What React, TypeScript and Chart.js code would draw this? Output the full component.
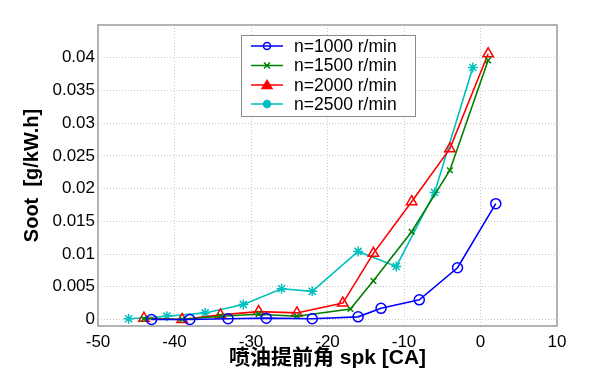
import React, { useEffect, useRef } from "react";
import { Chart, registerables } from "chart.js";

Chart.register(...registerables);

const seriesLabels = ["n=1000 r/min", "n=1500 r/min", "n=2000 r/min", "n=2500 r/min"];

const x1000 = [-43, -38, -33, -28, -22, -16, -13, -8, -3, 2];
const y1000 = [0.0, 0.0, 0.0001, 0.0002, 0.0001, 0.0004, 0.0017, 0.003, 0.0079, 0.0177];

const x1500 = [-44, -39, -34, -29, -24, -17, -14, -9, -4, 1];
const y1500 = [0.0001, 0.0, 0.0005, 0.0008, 0.0005, 0.0016, 0.0059, 0.0134, 0.0228, 0.0396];

const x2000 = [-44, -39, -34, -29, -24, -18, -14, -9, -4, 1];
const y2000 = [0.0002, 0.0, 0.0007, 0.0012, 0.001, 0.0025, 0.0101, 0.018, 0.0261, 0.0406];

const x2500 = [-46, -41, -36, -31, -26, -22, -16, -11, -6, -1];
const y2500 = [0.0001, 0.0005, 0.001, 0.0023, 0.0047, 0.0043, 0.0104, 0.0081, 0.0194, 0.0385];

const xTicks = [-50, -40, -30, -20, -10, 0, 10];
const yTicks = [0, 0.005, 0.01, 0.015, 0.02, 0.025, 0.03, 0.035, 0.04];

const xTitle = "喷油提前角 spk [CA]";
const yTitle = "Soot  [g/kW.h]";

const colors = ["#0000ff", "#008000", "#ff0000", "#00bfbf"];
const styles = ["circle", "crossRot", "triangle", "star"];
const radii = [5, 4, 6, 5];
const legendStyles = ["circle", "crossRot", "triangle", "circle"];
const legendRadii = [3.5, 3, 4.5, 3.5];
const legendFilled = [false, false, true, true];

const FONT = "'Liberation Sans', Arial, Helvetica, sans-serif";

function pts(xs: number[], ys: number[]) {
  return xs.map((x, i) => ({ x, y: ys[i] }));
}

function drawMarker(ctx: CanvasRenderingContext2D, style: string, x: number, y: number, r: number) {
  ctx.beginPath();
  if (style === "circle") {
    ctx.arc(x, y, r, 0, Math.PI * 2);
  } else if (style === "crossRot") {
    ctx.moveTo(x - r, y - r);
    ctx.lineTo(x + r, y + r);
    ctx.moveTo(x + r, y - r);
    ctx.lineTo(x - r, y + r);
  } else if (style === "triangle") {
    ctx.moveTo(x, y - r);
    ctx.lineTo(x + r * 1.1, y + r * 0.75);
    ctx.lineTo(x - r * 1.1, y + r * 0.75);
    ctx.closePath();
  }
}

const customLegend = {
  id: "customLegend",
  afterDraw(chart: any) {
    const ctx = chart.ctx as CanvasRenderingContext2D;
    const left = 241, top = 35, right = 415, bottom = 116;
    ctx.save();
    ctx.fillStyle = "#ffffff";
    ctx.fillRect(left, top, right - left, bottom - top);
    ctx.strokeStyle = "#8a8a8a";
    ctx.lineWidth = 1;
    ctx.strokeRect(left + 0.5, top + 0.5, right - left, bottom - top);
    const rows = [46, 65.5, 85, 104];
    chart.data.datasets.forEach((ds: any, i: number) => {
      const y = rows[i];
      ctx.strokeStyle = ds.borderColor;
      ctx.lineWidth = 1.5;
      ctx.beginPath();
      ctx.moveTo(251, y);
      ctx.lineTo(283, y);
      ctx.stroke();
      drawMarker(ctx, legendStyles[i], 267, y, legendRadii[i]);
      if (legendFilled[i]) {
        ctx.fillStyle = ds.borderColor;
        ctx.fill();
      }
      ctx.stroke();
      ctx.fillStyle = "#000000";
      ctx.font = `17.5px ${FONT}`;
      ctx.textBaseline = "middle";
      ctx.textAlign = "left";
      ctx.fillText(ds.label, 294, y + 1);
    });
    ctx.restore();
  },
};

const plotBorder = {
  id: "plotBorder",
  beforeDatasetsDraw(chart: any) {
    const { left, top, right, bottom } = chart.chartArea;
    const ctx = chart.ctx as CanvasRenderingContext2D;
    ctx.save();
    ctx.strokeStyle = "#9a9a9a";
    ctx.lineWidth = 1.5;
    ctx.strokeRect(left, top, right - left, bottom - top);
    ctx.restore();
  },
};

export default function App() {
  const ref = useRef<HTMLCanvasElement | null>(null);

  useEffect(() => {
    if (!ref.current) return;
    const data = [
      pts(x1000, y1000),
      pts(x1500, y1500),
      pts(x2000, y2000),
      pts(x2500, y2500),
    ];
    const chart = new Chart(ref.current, {
      type: "scatter",
      data: {
        datasets: data.map((d, i) => ({
          label: seriesLabels[i],
          data: d,
          showLine: true,
          borderColor: colors[i],
          backgroundColor: "rgba(0,0,0,0)",
          borderWidth: 1.6,
          pointStyle: styles[i] as any,
          pointRadius: radii[i],
          pointBorderWidth: 1.5,
          pointBorderColor: colors[i],
          pointBackgroundColor: "rgba(0,0,0,0)",
          tension: 0,
        })),
      },
      options: {
        responsive: false,
        animation: false,
        devicePixelRatio: 1,
        layout: { padding: { left: 0, top: 25, right: 58, bottom: 0 } },
        plugins: {
          legend: { display: false },
          tooltip: { enabled: false },
        },
        scales: {
          x: {
            type: "linear",
            min: -50,
            max: 10,
            afterBuildTicks: (s: any) => {
              s.ticks = xTicks.map((v) => ({ value: v }));
            },
            afterFit: (s: any) => {
              s.height = 51;
            },
            grid: {
              drawTicks: false,
              color: (c: any) => (c.tick && (c.tick.value === -50 || c.tick.value === 10) ? "rgba(0,0,0,0)" : "#c8c8c8"),
              lineWidth: 1,
            },
            border: { display: false, dash: [1, 2] },
            ticks: {
              color: "#000",
              padding: 6,
              font: { size: 17, family: FONT },
              maxRotation: 0,
            },
            title: {
              display: true,
              text: xTitle,
              color: "#000",
              font: { size: 21, weight: "bold", family: "'Liberation Sans', 'Noto Sans CJK SC', Arial, sans-serif" },
              padding: { top: 0, bottom: 6 },
            },
          },
          y: {
            type: "linear",
            min: -0.001,
            max: 0.045,
            afterBuildTicks: (s: any) => {
              s.ticks = yTicks.map((v) => ({ value: v }));
            },
            afterFit: (s: any) => {
              s.width = 98;
            },
            grid: {
              drawTicks: false,
              color: "#c8c8c8",
              lineWidth: 1,
            },
            border: { display: false, dash: [1, 2] },
            ticks: {
              color: "#000",
              padding: 3,
              font: { size: 17, family: FONT },
              callback: (v: any) => String(Number(v.toFixed(3))),
            },
            title: {
              display: true,
              text: yTitle,
              color: "#000",
              font: { size: 20, weight: "bold", family: FONT },
              padding: { top: 20, bottom: 0 },
            },
          },
        },
      },
      plugins: [plotBorder, customLegend],
    });
    return () => chart.destroy();
  }, []);

  return (
    <div style={{ position: "absolute", left: 0, top: 0, width: 615, height: 377, background: "#fff" }}>
      <canvas ref={ref} width={615} height={377} />
    </div>
  );
}
